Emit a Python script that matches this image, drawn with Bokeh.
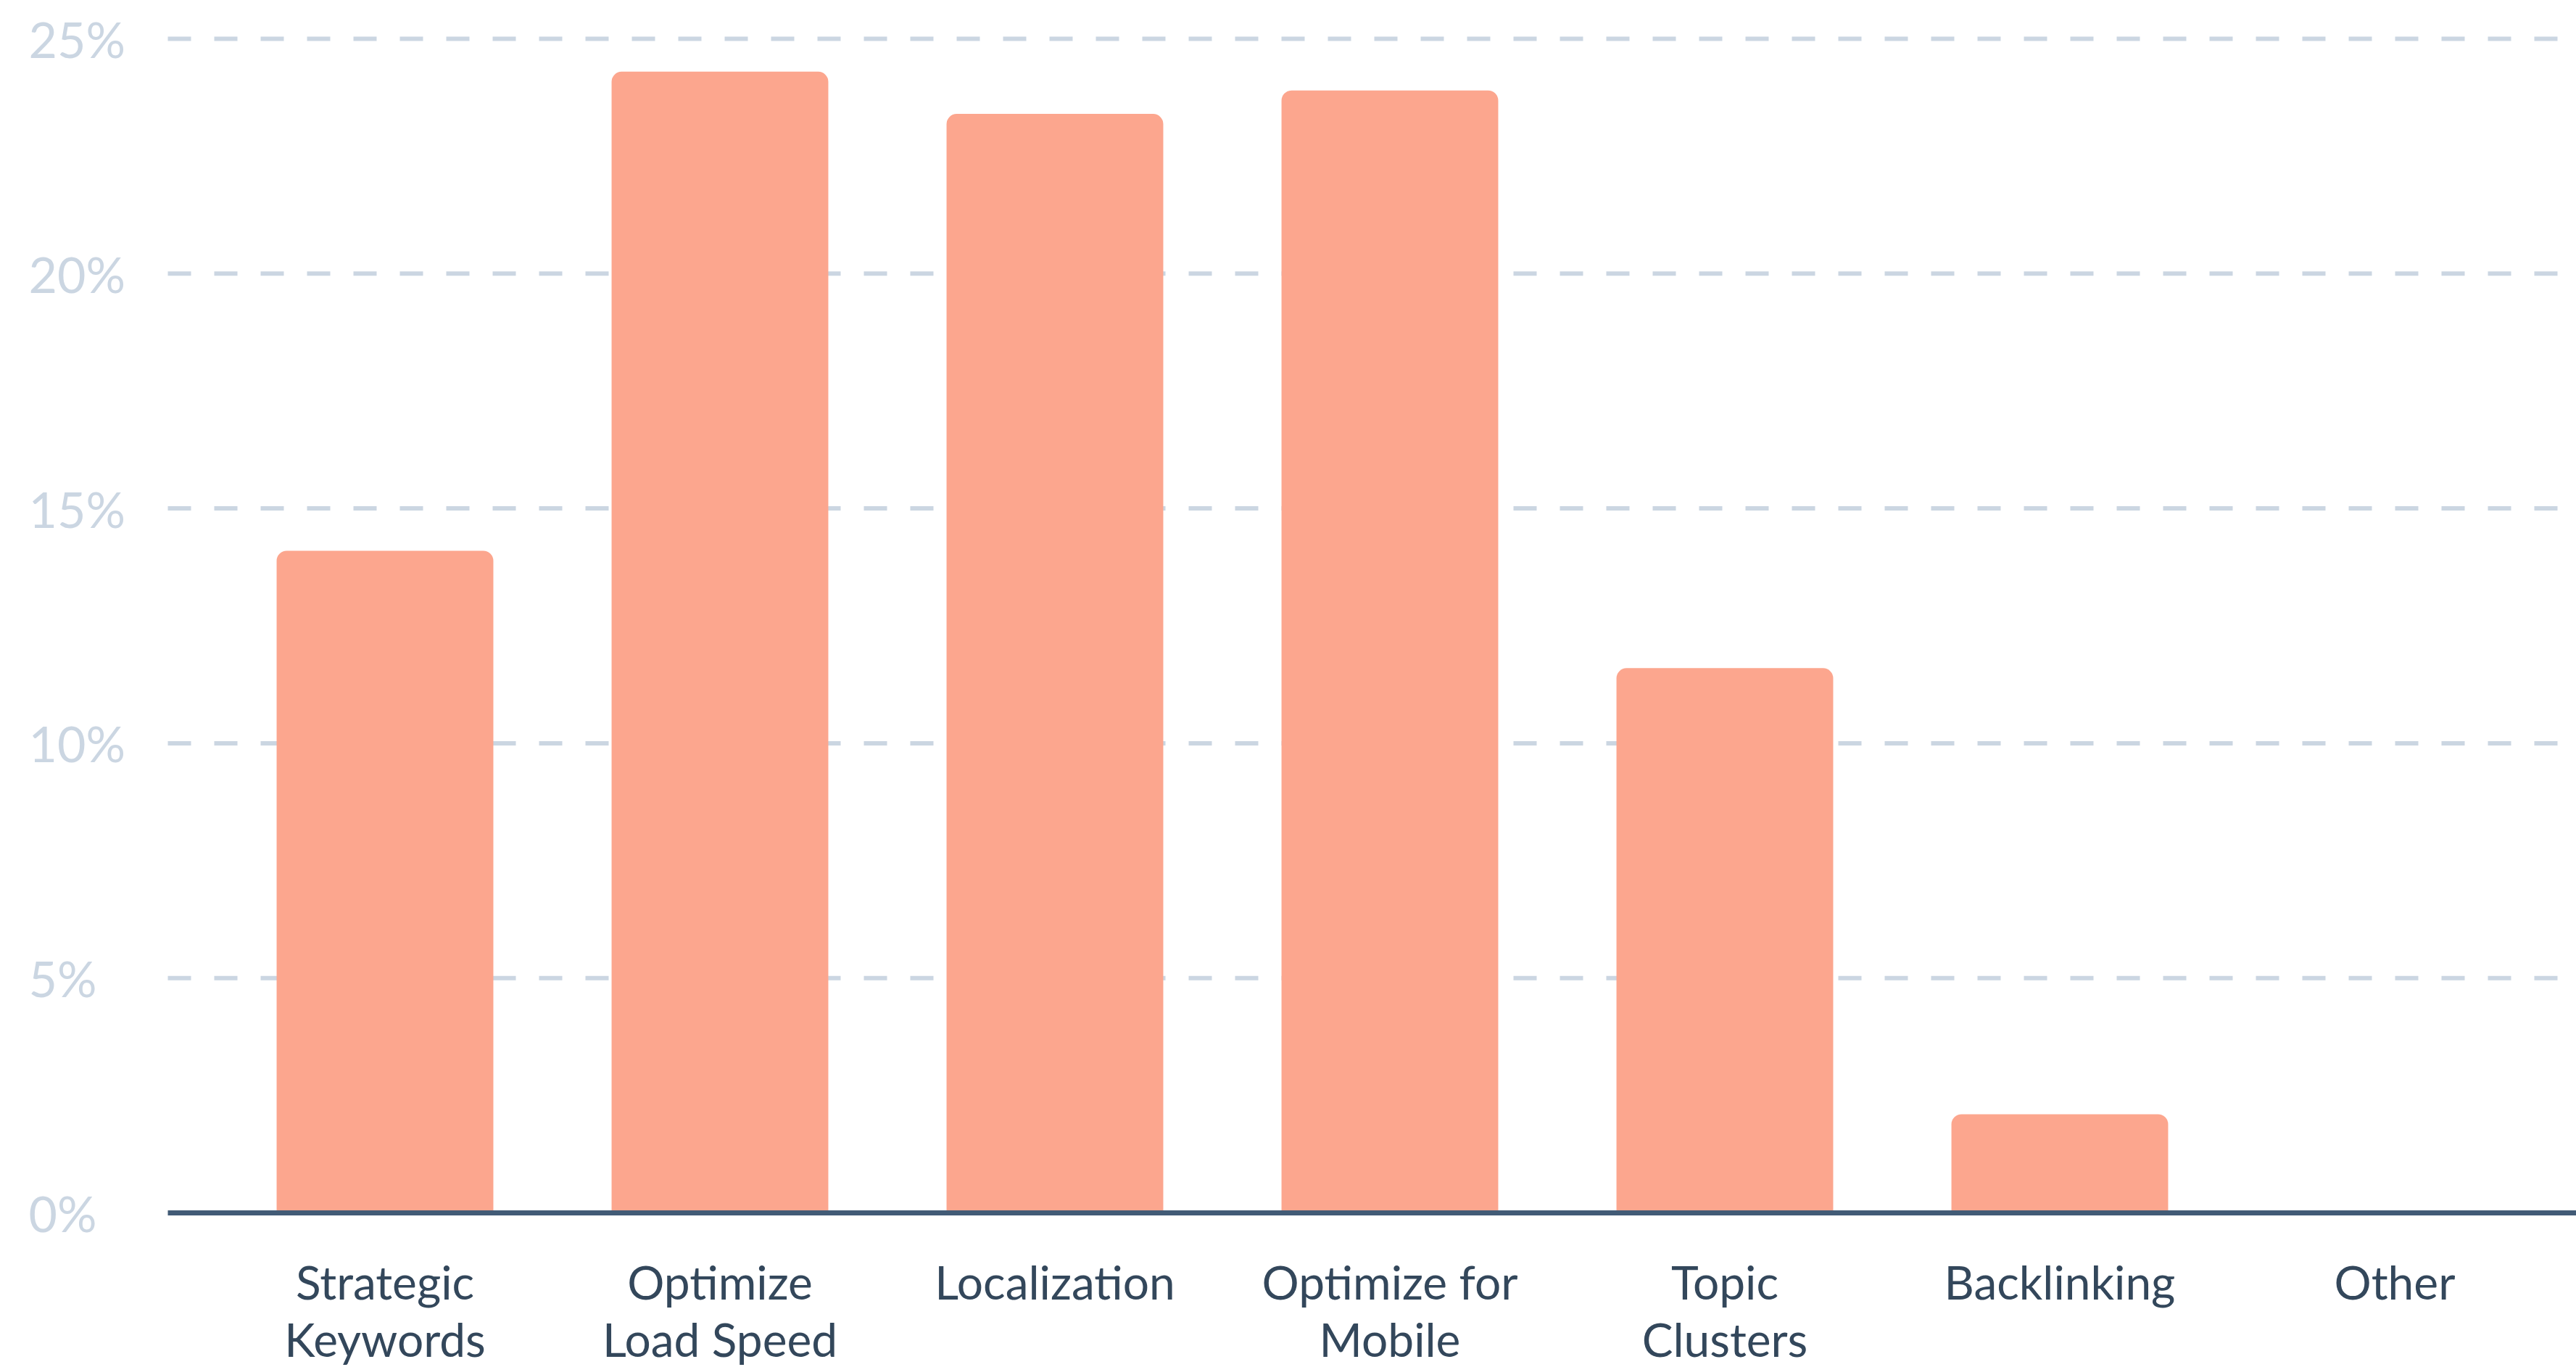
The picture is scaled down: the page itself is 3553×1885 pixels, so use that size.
from bokeh.plotting import figure
from bokeh.models import Range1d, ColumnDataSource
from bokeh.core.properties import value
from bokeh.embed import file_html
from bokeh.resources import INLINE

# ---- data ----
categories = ["Strategic\nKeywords", "Optimize\nLoad Speed", "Localization",
              "Optimize for\nMobile", "Topic\nClusters", "Backlinking", "Other"]
shares = [14.1, 24.3, 23.4, 23.9, 11.6, 2.1, 0.0]
y_ticks = [0, 5, 10, 15, 20, 25]
y_tick_labels = ["0%", "5%", "10%", "15%", "20%", "25%"]

# ---- layout constants (pixels) ----
W, H = 3553, 1885
CAT_PX = 462.0          # pixels per category
CAT0 = 530.5            # x of first category centre
ZERO_Y = 1672.0         # y of 0%
PX_PCT = 64.76          # pixels per percent

x_start = (0 - CAT0) / CAT_PX
x_end = (W - CAT0) / CAT_PX
y_end = ZERO_Y / PX_PCT
y_start = -(H - ZERO_Y) / PX_PCT
grid_x0 = (231 - CAT0) / CAT_PX
label_x = (39 - CAT0) / CAT_PX
xlabel_y = -(1728 - ZERO_Y) / PX_PCT

p = figure(width=W, height=H, output_backend="svg", toolbar_location=None,
           x_range=Range1d(x_start, x_end), y_range=Range1d(y_start, y_end),
           x_axis_location=None, y_axis_location=None,
           min_border=0, min_border_left=0, min_border_right=0,
           min_border_top=0, min_border_bottom=0)
p.outline_line_color = None
p.xgrid.visible = False
p.ygrid.visible = False
p.background_fill_color = "white"
p.border_fill_color = "white"

xs = list(range(len(categories)))

# dashed gridlines
grid_vals = [t for t in y_ticks if t > 0]
p.segment(x0=[grid_x0] * len(grid_vals), y0=grid_vals,
          x1=[x_end] * len(grid_vals), y1=grid_vals,
          line_color="#cbd6e2", line_width=6, line_dash="32 32")

# bars
src = ColumnDataSource(dict(x=xs, top=shares))
p.vbar(x="x", top="top", width=0.647, bottom=0, source=src,
       fill_color="#fca68e", line_color=None, border_radius=(14, 14, 0, 0))

# baseline
p.segment(x0=[grid_x0], y0=[0], x1=[x_end], y1=[0],
          line_color="#425b76", line_width=7)

# y labels
p.text(x=[label_x] * len(y_ticks), y=y_ticks, text=y_tick_labels,
       text_font=value("Lato"), text_font_size="68px", text_color="#cbd6e2",
       text_align="left", text_baseline="middle")

# x labels
p.text(x=xs, y=[xlabel_y] * len(xs), text=categories,
       text_font=value("Lato"), text_font_size="64px", text_color="#33475b",
       text_align="center", text_baseline="top", text_line_height=1.03)

open("out.html", "w").write(file_html(p, INLINE))
